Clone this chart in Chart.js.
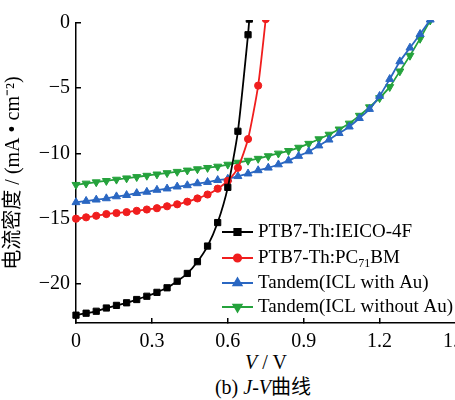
<!DOCTYPE html>
<html>
<head>
<meta charset="utf-8">
<script src="https://cdn.jsdelivr.net/npm/chart.js@4/dist/chart.umd.min.js"></script>
<style>
  body { margin: 0; width: 455px; height: 400px; overflow: hidden; background: #fff; position: relative; }
  #wrap { position: absolute; left: 0; top: 0; width: 480px; height: 350px; }
  .txt { position: absolute; font-family: 'Liberation Serif', 'Noto Sans CJK SC', serif; font-size: 20px; line-height: 24px; color: #000; white-space: nowrap; }
  #xtitle { left: 166px; width: 200px; top: 350px; text-align: center; }
  #caption { left: 163px; width: 200px; top: 375px; text-align: center; }
</style>
</head>
<body>
<div id="wrap"><canvas id="jvChart"></canvas></div>
<div id="xtitle" class="txt"><i>V</i> / V</div>
<div id="caption" class="txt">(b) <i>J</i>-<i>V</i>曲线</div>
<script>
// J-V data (V in volts, J in mA/cm2)
const voltsIEICO = [0, 0.04, 0.08, 0.12, 0.16, 0.2, 0.24, 0.28, 0.32, 0.36, 0.4, 0.44, 0.48, 0.52, 0.56, 0.6, 0.64, 0.68, 0.685];
const currentIEICO = [-22.4, -22.25, -22.1, -21.85, -21.65, -21.45, -21.2, -20.95, -20.65, -20.3, -19.8, -19.2, -18.3, -17.1, -15.3, -12.6, -8.3, -0.9, 0.3];

const voltsPCBM = [0, 0.04, 0.08, 0.12, 0.16, 0.2, 0.24, 0.28, 0.32, 0.36, 0.4, 0.44, 0.48, 0.52, 0.56, 0.6, 0.64, 0.68, 0.72, 0.75];
const currentPCBM = [-15.0, -14.9, -14.78, -14.65, -14.57, -14.5, -14.4, -14.3, -14.2, -14.05, -13.9, -13.7, -13.45, -13.15, -12.7, -12.1, -11.1, -8.9, -4.8, 0.3];

const voltsTandem = [0, 0.04, 0.08, 0.12, 0.16, 0.2, 0.24, 0.28, 0.32, 0.36, 0.4, 0.44, 0.48, 0.52, 0.56, 0.6, 0.64, 0.68, 0.72, 0.76, 0.8, 0.84, 0.88, 0.92, 0.96, 1.0, 1.04, 1.08, 1.12, 1.16, 1.2, 1.24, 1.28, 1.32, 1.36, 1.4];
const currentWithAu = [-13.75, -13.65, -13.55, -13.45, -13.3, -13.2, -13.05, -12.95, -12.8, -12.7, -12.55, -12.45, -12.3, -12.2, -12.05, -11.95, -11.75, -11.55, -11.3, -11.1, -10.85, -10.55, -10.2, -9.85, -9.4, -8.95, -8.45, -7.95, -7.3, -6.6, -5.6, -4.3, -2.95, -1.9, -0.85, 0.25];
const currentWithoutAu = [-12.4, -12.3, -12.2, -12.1, -12.0, -11.9, -11.8, -11.7, -11.6, -11.5, -11.4, -11.3, -11.2, -11.1, -11.0, -10.85, -10.7, -10.55, -10.4, -10.2, -10.0, -9.8, -9.55, -9.25, -8.9, -8.55, -8.15, -7.7, -7.1, -6.45, -5.75, -4.9, -3.7, -2.5, -1.2, 0.2];

const xTicks = [0, 0.3, 0.6, 0.9, 1.2, 1.5];
const yTicks = [0, -5, -10, -15, -20];

// legend labels; second item has a subscript part
const legendLabels = [
  [['PTB7-Th:IEICO-4F', false]],
  [['PTB7-Th:PC', false], ['71', true], ['BM', false]],
  [['Tandem(ICL with Au)', false]],
  [['Tandem(ICL without Au)', false]]
];

const serif = "'Liberation Serif', 'Noto Sans CJK SC', serif";

function toPoints(xs, ys) {
  return xs.map((x, i) => ({ x: x, y: ys[i] }));
}

const series = [
  { data: toPoints(voltsIEICO, currentIEICO), color: '#000000', style: 'rect', radius: 4.4, rot: 0 },
  { data: toPoints(voltsPCBM, currentPCBM), color: '#f01e1e', style: 'circle', radius: 3.6, rot: 0 },
  { data: toPoints(voltsTandem, currentWithAu), color: '#2a67c2', style: 'triangle', radius: 4.6, rot: 0 },
  { data: toPoints(voltsTandem, currentWithoutAu), color: '#25a23c', style: 'triangle', radius: 4.6, rot: 180 }
];

// hand drawn legend: line with a marker in the middle
const jvLegend = {
  id: 'jvLegend',
  afterDatasetsDraw(chart) {
    const ctx = chart.ctx;
    const area = chart.chartArea;
    const x0 = area.left + 146;
    const x1 = area.left + 177;
    const rows = [232, 258, 283, 307];
    ctx.save();
    series.forEach((s, i) => {
      const y = rows[i];
      ctx.strokeStyle = s.color;
      ctx.lineWidth = 2;
      ctx.beginPath();
      ctx.moveTo(x0, y);
      ctx.lineTo(x1, y);
      ctx.stroke();
      ctx.fillStyle = s.color;
      Chart.helpers.drawPoint(ctx, { pointStyle: s.style, radius: s.radius, rotation: s.rot, borderWidth: 1 }, (x0 + x1) / 2, y);
      let tx = x1 + 5;
      ctx.fillStyle = '#000';
      ctx.textBaseline = 'middle';
      legendLabels[i].forEach(([t, sub]) => {
        ctx.font = (sub ? 12 : 19) + 'px ' + serif;
        ctx.fillText(t, tx, sub ? y + 6 : y);
        tx += ctx.measureText(t).width;
      });
    });
    ctx.restore();
  }
};

const tickFont = { family: serif, size: 20 };

new Chart(document.getElementById('jvChart'), {
  type: 'scatter',
  data: {
    datasets: series.map(s => ({
      data: s.data,
      showLine: true,
      borderColor: s.color,
      backgroundColor: s.color,
      borderWidth: 1.8,
      pointStyle: s.style,
      pointRadius: s.radius,
      pointRotation: s.rot,
      pointBorderWidth: 1,
      pointHoverRadius: s.radius,
      tension: 0.2,
      clip: { left: 5, top: 3, right: 5, bottom: 5 }
    }))
  },
  options: {
    responsive: true,
    maintainAspectRatio: false,
    animation: false,
    events: [],
    layout: { padding: { left: 0, top: 19, right: 24, bottom: 0 } },
    plugins: {
      legend: { display: false },
      tooltip: { enabled: false }
    },
    scales: {
      x: {
        type: 'linear',
        min: 0,
        max: 1.5,
        afterBuildTicks: (scale) => { scale.ticks = xTicks.map(v => ({ value: v })); },
        afterFit: (scale) => { scale.height = 27; },
        border: { display: true, color: '#000', width: 1.5 },
        grid: { drawOnChartArea: false, drawTicks: true, tickLength: -5, color: '#000', lineWidth: 1.5 },
        ticks: { color: '#000', font: tickFont, padding: 12, maxRotation: 0, autoSkip: false },
        title: { display: false }
      },
      y: {
        type: 'linear',
        min: -23,
        max: 0,
        afterBuildTicks: (scale) => { scale.ticks = yTicks.map(v => ({ value: v })); },
        afterFit: (scale) => { scale.width = 76; },
        border: { display: true, color: '#000', width: 1.5 },
        grid: { drawOnChartArea: false, drawTicks: true, tickLength: -5, color: '#000', lineWidth: 1.5 },
        ticks: {
          color: '#000',
          font: tickFont,
          padding: 11,
          callback: (v) => v < 0 ? '\u2212' + Math.abs(v) : String(v)
        },
        title: {
          display: true,
          text: '电流密度 / (mA • cm⁻²)',
          color: '#000',
          font: { family: serif, size: 20 },
          padding: { top: 2, bottom: 0 }
        }
      }
    }
  },
  plugins: [jvLegend]
});
</script>
</body>
</html>
